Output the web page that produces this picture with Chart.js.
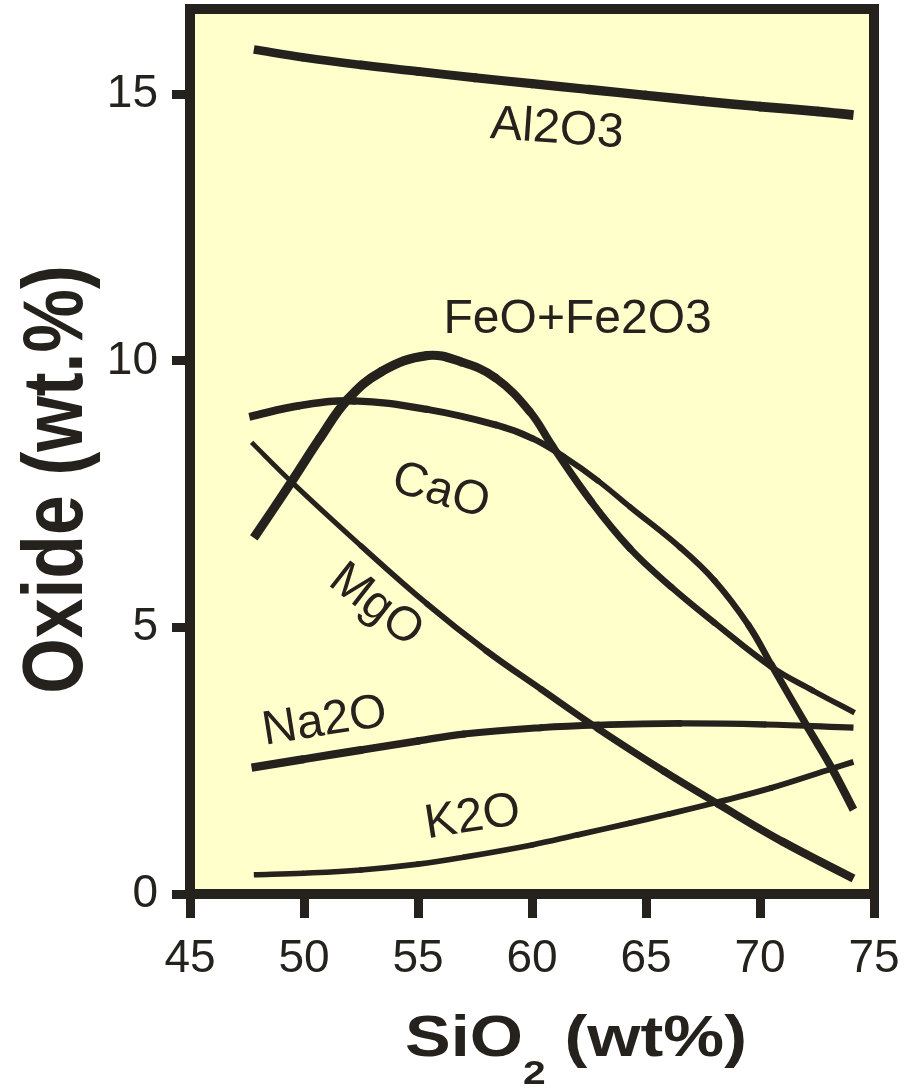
<!DOCTYPE html>
<html>
<head>
<meta charset="utf-8">
<script src="https://cdn.jsdelivr.net/npm/chart.js@4.4.1/dist/chart.umd.min.js"></script>
<style>
  html, body { margin: 0; padding: 0; background: #fff; }
  #wrap { width: 909px; height: 1089px; position: relative; }
</style>
</head>
<body>
<div id="wrap"><canvas id="chart"></canvas></div>
<script>
// tick values
var xTicks = [45, 50, 55, 60, 65, 70, 75];
var yTicks = [0, 5, 10, 15];

// SiO2 (x) and oxide wt.% (y)
var al2o3X = [47.8, 50, 52.5, 55, 57.5, 60, 62.5, 65, 67.5, 70, 72.5, 74.1];
var al2o3Y = [15.84, 15.69, 15.55, 15.43, 15.31, 15.2, 15.09, 14.98, 14.87, 14.77, 14.68, 14.61];

var feoX = [47.8, 49.45, 50.7, 51.9, 53.4, 55.4, 56.9, 58.4, 59.9, 60.9, 62.6, 64.3, 66.1, 68.0, 70.5, 72.3, 74.15];
var feoY = [6.68, 7.73, 8.55, 9.27, 9.80, 10.10, 9.98, 9.68, 9.05, 8.40, 7.36, 6.48, 5.76, 5.09, 4.26, 3.82, 3.40];

var caoX = [47.6, 49.8, 52.2, 55.4, 58.4, 60.0, 61.4, 62.9, 64.3, 66.5, 68.0, 69.5, 70.5, 72.1, 73.15, 74.1];
var caoY = [8.95, 9.16, 9.25, 9.09, 8.80, 8.55, 8.20, 7.75, 7.26, 6.50, 5.88, 5.04, 4.30, 3.12, 2.36, 1.58];

var mgoX = [47.7, 49.45, 52.5, 55.4, 58, 60.4, 62.9, 65.8, 68.2, 70.95, 74.1];
var mgoY = [8.47, 7.73, 6.53, 5.44, 4.56, 3.84, 3.10, 2.30, 1.68, 0.99, 0.29];

var na2oX = [47.7, 50, 52.5, 55, 57, 60.4, 62.9, 66.5, 70.2, 74.1];
var na2oY = [2.37, 2.53, 2.70, 2.87, 3.00, 3.12, 3.17, 3.20, 3.18, 3.12];

var k2oX = [47.8, 50, 52.5, 55, 57, 60, 62, 64.3, 66, 68.2, 70.5, 73.15, 74.1];
var k2oY = [0.36, 0.39, 0.45, 0.56, 0.69, 0.92, 1.11, 1.33, 1.50, 1.73, 1.99, 2.35, 2.48];

// curve labels: text, anchor in data units, angle in degrees
var curveLabels = [
  { text: 'Al2O3', x: 61.1, y: 14.34, angle: 4 },
  { text: 'FeO+Fe2O3', x: 62.0, y: 10.78, angle: 0 },
  { text: 'CaO', x: 56.0, y: 7.55, angle: 16 },
  { text: 'MgO', x: 53.15, y: 5.41, angle: 38 },
  { text: 'Na2O', x: 50.9, y: 3.23, angle: -9 },
  { text: 'K2O', x: 57.4, y: 1.43, angle: -9 }
];

var ink = '#25211c';
var paper = '#ffffcc';
var font = "'Liberation Sans', Arial, Helvetica, sans-serif";

var pairs = function (xs, ys) {
  var out = [];
  for (var i = 0; i < xs.length; ++i) {
    out.push({ x: xs[i], y: ys[i] });
  }
  return out;
};

// hand-drawn curves get thicker / thinner along their length
var taper = function (profile, n) {
  return function (c) {
    var t = (c.p0DataIndex + 0.5) / (n - 1) * (profile.length - 1);
    var i = Math.min(Math.floor(t), profile.length - 2);
    var f = t - i;
    return profile[i] + (profile[i + 1] - profile[i]) * f;
  };
};

// flat ends on the outer pieces, rounded joints in between
var caps = function (n) {
  return function (c) {
    return (c.p0DataIndex === 0 || c.p1DataIndex === n - 1) ? 'butt' : 'round';
  };
};

var curve = function (label, xs, ys, profile) {
  return {
    label: label,
    data: pairs(xs, ys),
    borderColor: ink,
    borderWidth: profile[0],
    borderCapStyle: 'butt',
    borderJoinStyle: 'round',
    pointRadius: 0,
    fill: false,
    tension: 0.4,
    segment: { borderWidth: taper(profile, xs.length), borderCapStyle: caps(xs.length) }
  };
};

var frame = {
  id: 'frame',
  beforeDraw: function (chart) {
    var a = chart.chartArea, ctx = chart.ctx;
    ctx.save();
    ctx.fillStyle = paper;
    ctx.fillRect(a.left, a.top, a.right - a.left, a.bottom - a.top);
    ctx.restore();
  },
  afterDatasetsDraw: function (chart) {
    var a = chart.chartArea, ctx = chart.ctx;
    ctx.save();
    ctx.strokeStyle = ink;
    ctx.lineWidth = 10;
    ctx.strokeRect(a.left, a.top, a.right - a.left, a.bottom - a.top);
    ctx.restore();
  }
};

var labels = {
  id: 'labels',
  afterDatasetsDraw: function (chart) {
    var ctx = chart.ctx, sx = chart.scales.x, sy = chart.scales.y;
    ctx.save();
    ctx.fillStyle = ink;
    ctx.font = '48px ' + font;
    ctx.textAlign = 'center';
    ctx.textBaseline = 'middle';
    curveLabels.forEach(function (l) {
      ctx.save();
      ctx.translate(sx.getPixelForValue(l.x), sy.getPixelForValue(l.y));
      ctx.rotate(l.angle * Math.PI / 180);
      ctx.fillText(l.text, 0, 0);
      ctx.restore();
    });
    ctx.restore();
  }
};

// axis titles, stretched like the original artwork
var titles = {
  id: 'titles',
  afterDraw: function (chart) {
    var a = chart.chartArea, ctx = chart.ctx;
    ctx.save();
    ctx.fillStyle = ink;
    ctx.textBaseline = 'alphabetic';
    ctx.textAlign = 'left';

    // x title: SiO2 (wt%) with subscript
    var big = 'bold 57px ' + font, small = 'bold 34px ' + font;
    ctx.font = big;
    var w1 = ctx.measureText('SiO').width;
    var w3 = ctx.measureText(' (wt%)').width;
    ctx.font = small;
    var w2 = ctx.measureText('2').width;
    var total = w1 + w2 + w3;
    ctx.save();
    ctx.translate((a.left + a.right) / 2 + 44, 1056);
    ctx.scale(1.2, 1);
    var x0 = -total / 2;
    ctx.font = big;
    ctx.fillText('SiO', x0, 0);
    ctx.font = small;
    ctx.fillText('2', x0 + w1, 28);
    ctx.font = big;
    ctx.fillText(' (wt%)', x0 + w1 + w2, 0);
    ctx.restore();

    // y title
    ctx.save();
    ctx.translate(82, (a.top + a.bottom) / 2 + 28);
    ctx.rotate(-Math.PI / 2);
    ctx.scale(0.84, 1);
    ctx.textAlign = 'center';
    ctx.font = 'bold 85px ' + font;
    ctx.fillText('Oxide (wt.%)', 0, 0);
    ctx.restore();

    ctx.restore();
  }
};

new Chart(document.getElementById('chart').getContext('2d'), {
  type: 'line',
  data: {
    datasets: [
      curve('Al2O3', al2o3X, al2o3Y, [8.5, 10]),
      curve('FeO+Fe2O3', feoX, feoY, [9, 9.5, 8, 6.5, 5.5]),
      curve('CaO', caoX, caoY, [8, 7, 5.5, 6.5, 8.5]),
      curve('MgO', mgoX, mgoY, [4.5, 6.5, 8.5]),
      curve('Na2O', na2oX, na2oY, [8.5, 7, 6]),
      curve('K2O', k2oX, k2oY, [5.5, 6])
    ]
  },
  options: {
    responsive: true,
    maintainAspectRatio: false,
    animation: false,
    layout: { padding: { top: 9, right: 35, left: 0, bottom: 0 } },
    plugins: { legend: { display: false }, tooltip: { enabled: false } },
    scales: {
      x: {
        type: 'linear',
        min: 45,
        max: 75,
        afterBuildTicks: function (s) { s.ticks = xTicks.map(function (v) { return { value: v }; }); },
        afterFit: function (s) { s.height = 195; s.paddingLeft = 0; s.paddingRight = 0; },
        border: { display: false },
        grid: { drawOnChartArea: false, drawTicks: true, tickLength: 24, tickWidth: 9, tickColor: ink },
        ticks: { color: ink, font: { family: font, size: 46 }, padding: 14, autoSkip: false, maxRotation: 0 }
      },
      y: {
        type: 'linear',
        min: 0,
        max: 16.6,
        afterBuildTicks: function (s) { s.ticks = yTicks.map(function (v) { return { value: v }; }); },
        afterFit: function (s) { s.width = 190; s.paddingTop = 0; s.paddingBottom = 0; },
        border: { display: false },
        grid: { drawOnChartArea: false, drawTicks: true, tickLength: 18, tickWidth: 9, tickColor: ink },
        ticks: { color: ink, font: { family: font, size: 46 }, padding: 14 }
      }
    }
  },
  plugins: [frame, labels, titles]
});
</script>
</body>
</html>
